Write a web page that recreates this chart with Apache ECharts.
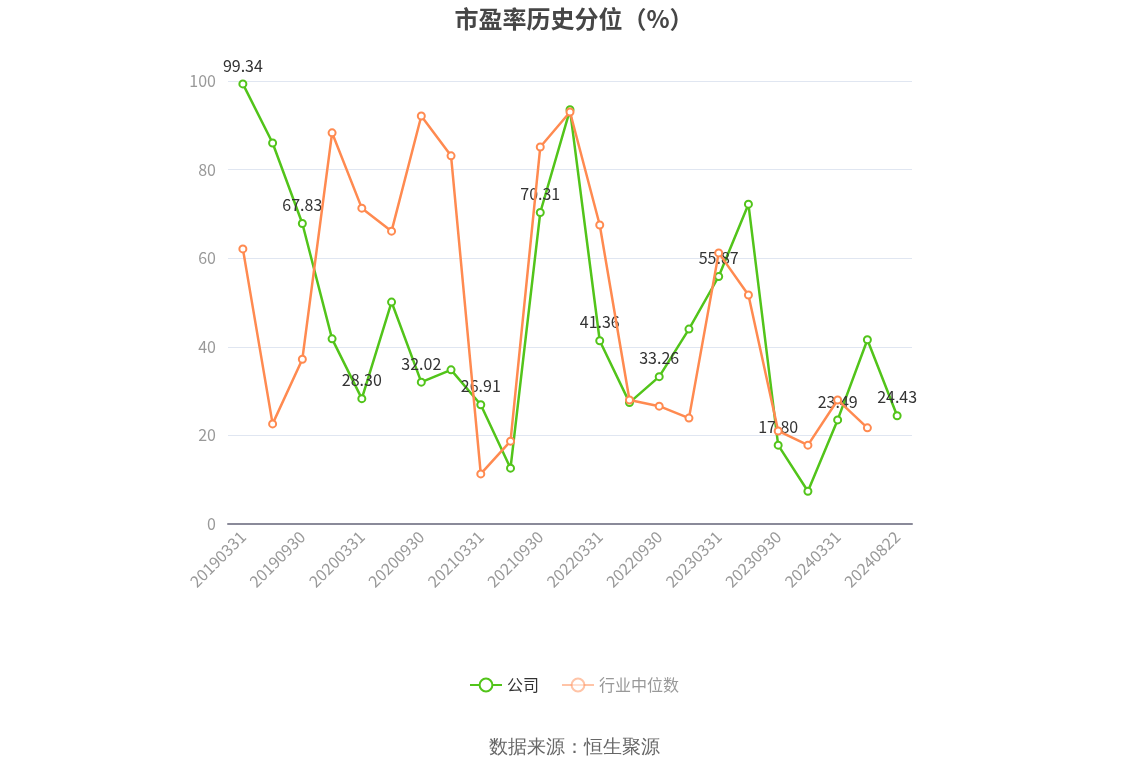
<!DOCTYPE html>
<html><head><meta charset="utf-8">
<script src="https://cdn.jsdelivr.net/npm/echarts@6/dist/echarts.min.js"></script>
<style>html,body{margin:0;padding:0;background:#fff}#c{width:1148px;height:776px}</style>
</head><body><div id="c"></div>
<script>
const categories = ["20190331","20190630","20190930","20191231","20200331","20200630","20200930","20201231","20210331","20210630","20210930","20211231","20220331","20220630","20220930","20221231","20230331","20230630","20230930","20231231","20240331","20240630","20240822"];
const companyValues = [99.34,86.0,67.83,41.8,28.30,50.1,32.02,34.8,26.91,12.6,70.31,93.5,41.36,27.4,33.26,44.0,55.87,72.2,17.80,7.4,23.49,41.6,24.43];
const industryValues = [62.1,22.6,37.2,88.3,71.3,66.1,92.1,83.1,11.3,18.7,85.1,93.0,67.5,28.0,26.6,23.9,61.2,51.7,21.0,17.8,28.0,21.7,null];
const yTicks = {min:0,max:100,interval:20};
const font = '"Noto Sans CJK SC","Noto Sans",sans-serif';
const chart = echarts.init(document.getElementById('c'));
chart.setOption({
  animation:false,
  textStyle:{fontFamily:font},
  title:{text:'市盈率历史分位（%）',left:'center',top:2,textStyle:{fontSize:24,fontWeight:'bold',color:'#464646',fontFamily:font}},
  grid:{left:228,right:236,top:81,bottom:252,containLabel:false},
  legend:{bottom:78,left:'center',itemWidth:32,itemHeight:16,itemGap:22,
    textStyle:{fontSize:16,fontFamily:font},
    data:[{name:'公司',textStyle:{color:'#333'}},{name:'行业中位数',textStyle:{color:'#999'},itemStyle:{opacity:0.5},lineStyle:{opacity:0.5}}]},
  graphic:[{type:'text',left:'center',top:738,style:{text:'数据来源：恒生聚源',fontSize:19,fill:'#666',font:'19px '+font}}],
  xAxis:{type:'category',data:categories,boundaryGap:true,
    axisLine:{lineStyle:{color:'#8a8a99',width:2}},
    axisTick:{alignWithLabel:true,interval:1,length:6,lineStyle:{color:'#8a8a99'}},
    axisLabel:{interval:1,rotate:45,color:'#999',fontSize:16,fontFamily:font,margin:10}},
  yAxis:{type:'value',min:yTicks.min,max:yTicks.max,interval:yTicks.interval,
    axisLabel:{color:'#999',fontSize:16,fontFamily:font,margin:12},
    splitLine:{lineStyle:{color:'#E0E6F1'}}},
  series:[
    {name:'公司',type:'line',data:companyValues,symbol:'emptyCircle',symbolSize:7,
     itemStyle:{color:'#52C41A',borderWidth:2},lineStyle:{width:2.5,color:'#52C41A'},
     label:{show:true,position:'top',distance:6,fontSize:16,color:'#333',fontFamily:font,
       formatter:p=>p.dataIndex%2===0?p.value.toFixed(2):''},z:3},
    {name:'行业中位数',type:'line',data:industryValues,symbol:'emptyCircle',symbolSize:7,
     itemStyle:{color:'#FF8A50',borderWidth:2},lineStyle:{width:2.5,color:'#FF8A50'},z:4}
  ]
});
</script></body></html>
